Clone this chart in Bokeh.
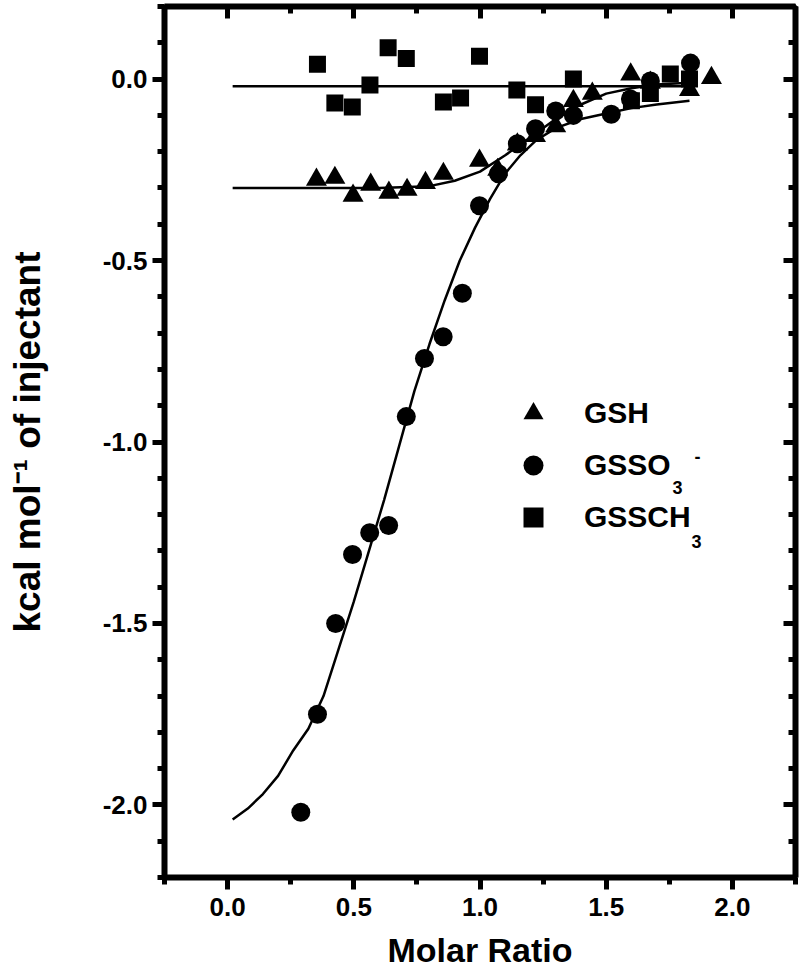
import numpy as np
from bokeh.plotting import figure
from bokeh.models import (Range1d, LinearAxis, SingleIntervalTicker, Legend, LegendItem,
                          Label, PrintfTickFormatter, CustomJSTickFormatter)
from bokeh.embed import file_html
from bokeh.resources import INLINE

# ---------------- data ----------------
gsh_x = [0.352, 0.425, 0.497, 0.567, 0.639, 0.711, 0.784, 0.855, 0.998, 1.07,
         1.148, 1.22, 1.30, 1.37, 1.445, 1.597, 1.675, 1.83, 1.917]
gsh_y = [-0.277, -0.272, -0.321, -0.291, -0.313, -0.305, -0.286, -0.261, -0.225, -0.25,
         -0.18, -0.157, -0.13, -0.06, -0.04, 0.013, -0.01, -0.03, 0.003]

gsso3_x = [0.29, 0.356, 0.428, 0.495, 0.563, 0.638, 0.708, 0.78, 0.854, 0.93,
           0.998, 1.073, 1.148, 1.22, 1.30, 1.37, 1.52, 1.596, 1.675, 1.834]
gsso3_y = [-2.02, -1.75, -1.50, -1.31, -1.25, -1.23, -0.93, -0.77, -0.71, -0.59,
           -0.349, -0.261, -0.178, -0.137, -0.088, -0.10, -0.097, -0.055, -0.005, 0.044]

gssch3_x = [0.356, 0.425, 0.494, 0.564, 0.636, 0.708, 0.855, 0.923, 0.998, 1.146,
            1.22, 1.37, 1.60, 1.675, 1.754, 1.83]
gssch3_y = [0.041, -0.066, -0.077, -0.016, 0.086, 0.057, -0.063, -0.052, 0.063, -0.030,
            -0.071, 0.0, -0.06, -0.04, 0.014, 0.0]

# fitted curves
fit_gsso3_x = [0.02, 0.08, 0.14, 0.20, 0.26, 0.32, 0.38, 0.44, 0.50, 0.56, 0.62, 0.68,
               0.74, 0.80, 0.86, 0.92, 0.98, 1.04, 1.10, 1.16, 1.22, 1.30, 1.40, 1.50,
               1.60, 1.70, 1.83]
fit_gsso3_y = [-2.04, -2.01, -1.97, -1.92, -1.85, -1.79, -1.70, -1.57, -1.44, -1.30,
               -1.16, -1.01, -0.86, -0.73, -0.61, -0.50, -0.41, -0.33, -0.26, -0.21,
               -0.17, -0.135, -0.11, -0.095, -0.08, -0.07, -0.06]

fit_gsh_x = [0.02, 0.30, 0.60, 0.80, 0.90, 1.00, 1.10, 1.20, 1.30, 1.40, 1.50, 1.60,
             1.70, 1.83]
fit_gsh_y = [-0.30, -0.30, -0.30, -0.295, -0.28, -0.255, -0.21, -0.16, -0.11, -0.07,
             -0.04, -0.025, -0.015, -0.01]

fit_gssch3_x = [0.02, 1.83]
fit_gssch3_y = [-0.02, -0.02]

x_ticks_major = 0.5
y_ticks_major = 0.5

FONT = "Liberation Sans"

p = figure(width=800, height=972, output_backend="svg", toolbar_location=None,
           x_range=Range1d(-0.25, 2.25), y_range=Range1d(-2.2, 0.2),
           min_border_left=164, min_border_right=5, min_border_top=6,
           min_border_bottom=95)
p.xgrid.visible = False
p.ygrid.visible = False
p.outline_line_color = "black"
p.outline_line_width = 4
p.background_fill_color = "white"
p.border_fill_color = "white"

# fit lines
for fx, fy in [(fit_gsso3_x, fit_gsso3_y), (fit_gsh_x, fit_gsh_y), (fit_gssch3_x, fit_gssch3_y)]:
    p.line(fx, fy, line_color="black", line_width=2.5)

r_sq = p.scatter(gssch3_x, gssch3_y, marker="square", size=17, fill_color="black", line_color=None)
r_tr = p.scatter(gsh_x, gsh_y, marker="triangle", size=21, fill_color="black", line_color=None)
r_ci = p.scatter(gsso3_x, gsso3_y, marker="circle", size=19, fill_color="black", line_color=None)

def style_axis(ax, labels=True, inward=False):
    ax.axis_line_width = 6
    ax.axis_line_color = "black"
    ax.major_tick_line_width = 5
    ax.minor_tick_line_width = 5
    ax.major_tick_line_color = "black"
    ax.minor_tick_line_color = "black"
    if inward:
        ax.major_tick_in = 12
        ax.major_tick_out = 0
        ax.minor_tick_in = 7
        ax.minor_tick_out = 0
    else:
        ax.major_tick_in = 0
        ax.major_tick_out = 12
        ax.minor_tick_in = 0
        ax.minor_tick_out = 7
    if labels:
        ax.major_label_text_font = FONT
        ax.major_label_text_font_style = "bold"
        ax.major_label_text_font_size = "26px"
        ax.major_label_text_color = "black"
        ax.axis_label_text_font = FONT
        ax.axis_label_text_font_style = "bold"
        ax.axis_label_text_font_size = "34px"
        ax.axis_label_text_color = "black"
    else:
        ax.formatter = CustomJSTickFormatter(code="return ''")
        ax.major_label_text_font_size = "1px"
        ax.major_label_standoff = 0

xt = SingleIntervalTicker(interval=x_ticks_major, num_minor_ticks=2)
yt = SingleIntervalTicker(interval=y_ticks_major, num_minor_ticks=5)

p.xaxis.ticker = xt
p.yaxis.ticker = yt
p.xaxis.formatter = PrintfTickFormatter(format="%.1f")
p.yaxis.formatter = PrintfTickFormatter(format="%.1f")
style_axis(p.xaxis[0])
style_axis(p.yaxis[0])
p.xaxis.axis_label = "Molar Ratio"
p.yaxis.axis_label = "kcal mol\u207b\u00b9 of injectant"
p.yaxis.axis_label_text_font_size = "37px"
p.xaxis.major_label_standoff = 8
p.yaxis.major_label_standoff = 5
p.xaxis.axis_label_standoff = 12
p.yaxis.axis_label_standoff = 52

top = LinearAxis(ticker=SingleIntervalTicker(interval=x_ticks_major, num_minor_ticks=2))
style_axis(top, labels=False, inward=True)
p.add_layout(top, "above")
right = LinearAxis(ticker=SingleIntervalTicker(interval=y_ticks_major, num_minor_ticks=5))
style_axis(right, labels=False, inward=True)
p.add_layout(right, "right")

legend = Legend(items=[LegendItem(label="GSH", renderers=[r_tr]),
                       LegendItem(label="GSSO", renderers=[r_ci]),
                       LegendItem(label="GSSCH", renderers=[r_sq])],
                location=(344, 334), glyph_width=50, glyph_height=52,
                label_standoff=26, spacing=0, padding=0, margin=0,
                border_line_color=None, background_fill_alpha=0,
                label_text_font=FONT, label_text_font_style="bold",
                label_text_color="black",
                label_text_font_size="30px", label_height=52)
p.add_layout(legend, "center")

sub_style = dict(text_font=FONT, text_font_style="bold", text_color="black",
                 text_baseline="middle", text_align="left")
p.add_layout(Label(x=1.763, y=-1.125, text="3", text_font_size="18px", **sub_style))
p.add_layout(Label(x=1.850, y=-1.040, text="-", text_font_size="18px", **sub_style))
p.add_layout(Label(x=1.838, y=-1.275, text="3", text_font_size="18px", **sub_style))

open("out.html", "w").write(file_html(p, INLINE))
